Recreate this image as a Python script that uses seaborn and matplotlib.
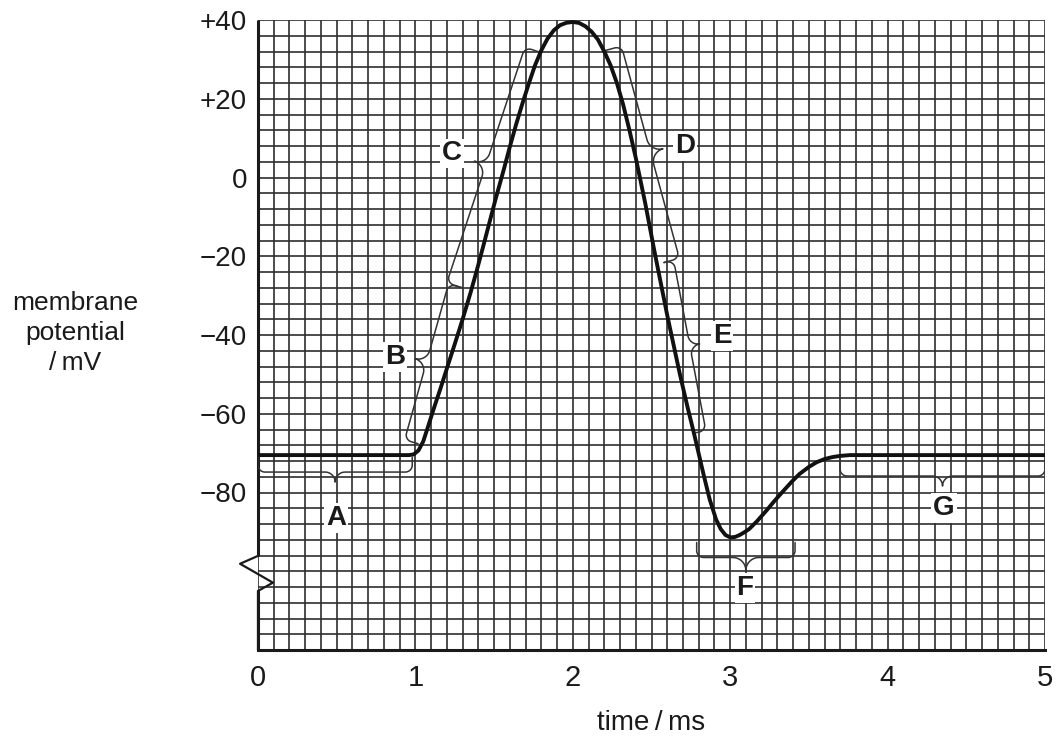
import numpy as np
import matplotlib
matplotlib.use("Agg")
import matplotlib.pyplot as plt
from matplotlib.transforms import IdentityTransform
import seaborn as sns

# membrane potential trace
time_ms = [0.00, 0.50, 0.96, 0.99, 1.02, 1.05, 1.08, 1.12, 1.16, 1.20, 1.25,
           1.30, 1.35, 1.39, 1.43, 1.47, 1.51, 1.56, 1.60, 1.64, 1.68, 1.72,
           1.76, 1.80, 1.84, 1.88, 1.92, 1.96, 2.00, 2.04, 2.08, 2.12, 2.16,
           2.20, 2.24, 2.28, 2.32, 2.36, 2.40, 2.46, 2.52, 2.60, 2.68, 2.73,
           2.77, 2.83, 2.87, 2.91, 2.94, 2.97, 3.00, 3.03, 3.06, 3.09, 3.12,
           3.17, 3.23, 3.28, 3.34, 3.39, 3.44, 3.50, 3.55, 3.60, 3.65, 3.70,
           3.76, 4.00, 5.00]
potential_mv = [-70.5, -70.5, -70.5, -70.3, -69.3, -67.0, -63.3, -58.3, -53.5,
                -48.5, -42.3, -36.0, -29.3, -23.6, -17.6, -11.5, -5.4, 1.8,
                7.8, 13.5, 18.8, 23.8, 28.5, 32.3, 35.3, 37.4, 38.7, 39.3,
                39.5, 39.25, 38.4, 37.0, 35.0, 32.0, 28.5, 24.0, 18.5, 12.0,
                5.0, -6.5, -19.0, -35.0, -49.9, -58.5, -65.0, -75.3, -81.8,
                -86.8, -89.3, -90.8, -91.4, -91.3, -90.8, -90.1, -89.3, -87.3,
                -84.6, -82.2, -79.5, -77.3, -75.3, -73.5, -72.3, -71.5, -71.0,
                -70.7, -70.5, -70.5, -70.5]

x_ticks = [0, 1, 2, 3, 4, 5]
y_ticks = [40, 20, 0, -20, -40, -60, -80]
y_tick_labels = ["+40", "+20", "0", "\u221220", "\u221240", "\u221260", "\u221280"]

# phase braces: start / end point (time, mV) and label anchor
phase_labels = ["A", "B", "C", "D", "E", "F", "G"]
brace_start = [(0.98, -71.0), (1.017, -67.6), (1.296, -28.0), (2.211, 32.3),
               (2.579, -21.6), (3.412, -92.7), (5.0, -71.5)]
brace_end = [(0.0, -71.0), (1.296, -28.0), (1.792, 31.8), (2.579, -21.6),
             (2.783, -64.8), (2.787, -92.7), (3.698, -71.5)]
label_pos = [(0.496, -86.4), (0.870, -45.7), (1.233, 6.1), (2.713, 8.1),
             (2.948, -40.2), (3.094, -104.2), (4.358, -83.9)]
brace_depth = [15, 14, 16, 16, 10, 15, 17]
brace_tip = [10, 12, 12, 13, 10, 13, 10]

sns.set_style("white")
plt.rcParams["font.family"] = ["Liberation Sans", "DejaVu Sans"]
plt.rcParams["axes.unicode_minus"] = True


def draw_brace(ax, p0, p1, depth, tip, curl=7, **kw):
    a = ax.transData.transform(p0)
    b = ax.transData.transform(p1)
    u = (b - a) / np.hypot(*(b - a))
    n = np.array([-u[1], u[0]])
    m = (a + b) / 2
    th = np.linspace(0, np.pi / 2, 14)[:, None]
    c1 = a + (depth - curl) * n + curl * u
    seg1 = c1 - curl * np.cos(th) * u + curl * np.sin(th) * n
    ct1 = m - tip * u + (depth + tip) * n
    seg2 = ct1 + tip * np.sin(th) * u - tip * np.cos(th) * n
    ct2 = m + tip * u + (depth + tip) * n
    seg3 = ct2 - tip * np.cos(th) * u - tip * np.sin(th) * n
    c2 = b + (depth - curl) * n - curl * u
    seg4 = c2 + curl * np.sin(th) * u + curl * np.cos(th) * n
    pts = np.vstack([a, seg1, seg2, seg3, seg4, b])
    ax.plot(pts[:, 0], pts[:, 1], transform=IdentityTransform(), **kw)


fig = plt.figure(figsize=(10.56, 7.36), dpi=100)
ax = fig.add_axes([258 / 1056, 1 - 650 / 736, 787 / 1056, 630 / 736])
ax.set_xlim(0, 5)
ax.set_ylim(-120, 40)
ax.set_autoscale_on(False)

ax.set_xticks(x_ticks)
ax.set_xticks(np.arange(0, 5.001, 0.1), minor=True)
ax.set_yticks(y_ticks)
ax.set_yticklabels(y_tick_labels)
ax.set_yticks(np.arange(-120, 40.001, 4), minor=True)
ax.grid(True, which="both", color="#2e2e2e", linewidth=1.2)
ax.set_axisbelow(True)

ax.tick_params(axis="both", which="minor", length=0)
ax.tick_params(axis="y", which="major", length=6, width=1.6, pad=2,
               labelsize=20, colors="#1a1a1a")
ax.tick_params(axis="x", which="major", length=7, width=1.6, pad=3,
               labelsize=21, colors="#1a1a1a")

for side in ["top", "right", "left"]:
    ax.spines[side].set_visible(False)
ax.spines["bottom"].set_linewidth(2.2)
ax.spines["bottom"].set_color("#1a1a1a")

# left axis with a zig-zag break
ax.plot([0, 0], [-96.1, 40], color="#1a1a1a", lw=2.2, clip_on=False,
        solid_capstyle="butt")
ax.plot([0, -0.114, 0.095, 0, 0], [-96.1, -98.1, -102.9, -105.0, -120],
        color="#1a1a1a", lw=1.6, clip_on=False)
ax.plot([0, 0], [-105.0, -120], color="#1a1a1a", lw=2.2, clip_on=False)

sns.lineplot(x=time_ms, y=potential_mv, color="#111111", linewidth=2.8,
             ax=ax, zorder=5)

for lab, p0, p1, d, t, lp in zip(phase_labels, brace_start, brace_end,
                                 brace_depth, brace_tip, label_pos):
    draw_brace(ax, p0, p1, d, t, color="#333333", lw=1.1, zorder=4)
    ax.text(lp[0], lp[1], lab, ha="center", va="center", fontsize=20,
            fontweight="bold", color="#1a1a1a", zorder=6,
            bbox=dict(facecolor="white", edgecolor="none", pad=1.5))

ax.set_xlabel("time\u2009/\u2009ms", fontsize=20, labelpad=13, color="#1a1a1a")
ax.set_ylabel("")
fig.text(75 / 1056, 1 - 333 / 736, "membrane\npotential\n/\u2009mV",
         ha="center", va="center", fontsize=19, linespacing=1.3,
         color="#1a1a1a")

fig.savefig("out.png", dpi=100)
plt.close(fig)
